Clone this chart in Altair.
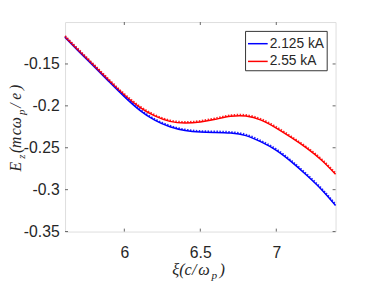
import altair as alt
import pandas as pd

# ---- data ----
xi = [5.61, 5.7, 5.8, 5.9, 6.0, 6.1, 6.2, 6.3, 6.4, 6.5, 6.6, 6.7, 6.8, 6.9, 7.0, 7.1, 7.2, 7.3, 7.39]
blue = [-0.1185, -0.1350, -0.1530, -0.1712, -0.1890, -0.2050, -0.2170, -0.2250, -0.2295, -0.2313,
        -0.2318, -0.2325, -0.2355, -0.2430, -0.2530, -0.2668, -0.2828, -0.3003, -0.3188]
red = [-0.1178, -0.1342, -0.1520, -0.1700, -0.1870, -0.2015, -0.2120, -0.2185, -0.2205, -0.2192,
       -0.2160, -0.2125, -0.2122, -0.2170, -0.2265, -0.2380, -0.2505, -0.2652, -0.2816]
blue_dot = [-0.1173, -0.1338, -0.1518, -0.1700, -0.1878, -0.2038, -0.2158, -0.2238, -0.2283, -0.2301,
            -0.2306, -0.2313, -0.2343, -0.2418, -0.2518, -0.2656, -0.2816, -0.2991, -0.3176]
red_dot = [-0.1166, -0.1330, -0.1508, -0.1688, -0.1858, -0.2003, -0.2108, -0.2173, -0.2193, -0.2180,
           -0.2148, -0.2113, -0.2110, -0.2158, -0.2253, -0.2368, -0.2493, -0.2640, -0.2804]
series_names = ["2.125 kA", "2.55 kA"]
x_ticks = [6, 6.5, 7]
y_ticks = [-0.35, -0.3, -0.25, -0.2, -0.15]

W, H = 275, 213
TXT = "#262626"

solid_df = pd.DataFrame({
    "x": xi + xi,
    "y": blue + red,
    "s": [series_names[0]] * len(xi) + [series_names[1]] * len(xi),
})
dot_df = pd.DataFrame({
    "x": xi + xi,
    "y": blue_dot + red_dot,
    "d": [series_names[0]] * len(xi) + [series_names[1]] * len(xi),
})

xscale = alt.Scale(domain=[5.61, 7.39], nice=False, zero=False)
yscale = alt.Scale(domain=[-0.35, -0.1], nice=False, zero=False)
cscale = alt.Scale(domain=series_names, range=["#0000ff", "#ff0000"])

xaxis = alt.Axis(values=x_ticks, title=None, grid=False, domain=False, tickSize=0,
                 labelFontSize=16, labelFont="Liberation Sans", labelColor=TXT,
                 labelPadding=13, labelExpr="'' + datum.value")
yaxis = alt.Axis(values=y_ticks, title=None, grid=False, domain=False, tickSize=0,
                 labelFontSize=16, labelFont="Liberation Sans", labelColor=TXT,
                 labelPadding=6, labelExpr="'' + datum.value")

solid = alt.Chart(solid_df).mark_line(strokeWidth=1.5, interpolate="natural").encode(
    x=alt.X("x:Q", scale=xscale, axis=xaxis),
    y=alt.Y("y:Q", scale=yscale, axis=yaxis),
    color=alt.Color("s:N", scale=cscale, legend=alt.Legend(
        title=None, orient="top-right", offset=9, labelFontSize=14, labelFont="Liberation Sans",
        labelColor=TXT, symbolType="stroke", symbolSize=400, symbolStrokeWidth=1.5,
        strokeColor="#333333", fillColor="white", padding=2, rowPadding=0, labelOffset=1)),
)

dotted = alt.Chart(dot_df).mark_line(strokeWidth=2, strokeDash=[1.5, 1.5], opacity=0.85,
                                     interpolate="natural").encode(
    x=alt.X("x:Q", scale=xscale),
    y=alt.Y("y:Q", scale=yscale),
    color=alt.Color("d:N", scale=alt.Scale(domain=series_names, range=["#0000ff", "#ff0000"]),
                    legend=None),
)

xt_df = pd.DataFrame({"t": x_ticks})
yt_df = pd.DataFrame({"t": y_ticks})
tick_style = dict(color="#404040", strokeWidth=0.8)
xt_bot = alt.Chart(xt_df).mark_rule(**tick_style).encode(
    x=alt.X("t:Q", scale=xscale), y=alt.value(H), y2=alt.value(H - 3))
xt_top = alt.Chart(xt_df).mark_rule(**tick_style).encode(
    x=alt.X("t:Q", scale=xscale), y=alt.value(0), y2=alt.value(3))
yt_left = alt.Chart(yt_df).mark_rule(**tick_style).encode(
    y=alt.Y("t:Q", scale=yscale), x=alt.value(0), x2=alt.value(3))
yt_right = alt.Chart(yt_df).mark_rule(**tick_style).encode(
    y=alt.Y("t:Q", scale=yscale), x=alt.value(W), x2=alt.value(W - 3))


def glyph(txt, x, y, size, angle=0):
    return alt.Chart(alt.Data(values=[{"k": 1}])).mark_text(
        text=txt, font="Liberation Serif", fontStyle="italic", fontSize=size,
        angle=angle, align="left", baseline="alphabetic", color=TXT
    ).encode(x=alt.value(x), y=alt.value(y))


# y-axis title E_z(mcω_p/e), rotated, reading bottom to top
ytitle_parts = [("E", 0, False), ("z", 13, True), ("(", 19, False), ("m", 24, False),
                ("c", 37, False), ("ω", 44, False), ("p", 57.5, True), ("/", 65, False),
                ("e", 73, False), (")", 83, False)]
ytitle = [glyph(t, -41 if sub else -45, 152 - off, 11 if sub else 16, 270)
          for t, off, sub in ytitle_parts]

# x-axis title ξ(c/ω_p)
xtitle_parts = [("ξ", 109, False), ("(", 116, False), ("c", 121.5, False), ("/", 129, False),
                ("ω", 135.5, False), ("p", 149, True), (")", 157, False)]
xtitle = [glyph(t, px, 261 if sub else 257, 11.5 if sub else 16.5)
          for t, px, sub in xtitle_parts]

chart = alt.layer(solid, dotted, xt_bot, xt_top, yt_left, yt_right, *ytitle, *xtitle).resolve_scale(
    color="independent"
).properties(
    width=W, height=H,
    autosize=alt.AutoSizeParams(type="none"),
    padding={"left": 58, "top": 12, "right": 34, "bottom": 50},
).configure_view(stroke="#555555", strokeWidth=1).configure(background="white")

chart.save("out.html", embed_options={"renderer": "svg", "actions": False})
